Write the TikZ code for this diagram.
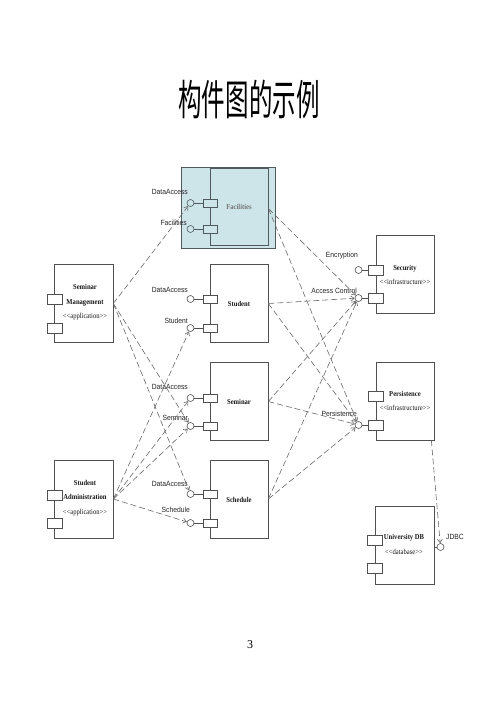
\documentclass[tikz,border=0pt]{standalone}
\usepackage{fontspec}
\setmainfont{Liberation Serif}
\setsansfont{Liberation Sans}
\newfontfamily\cjk{Noto Sans CJK SC}
\newfontfamily\condserif[FakeStretch=0.88]{Liberation Serif}
\newfontfamily\condsans[FakeStretch=0.9]{Liberation Sans}
\usetikzlibrary{arrows.meta}
\definecolor{lineg}{HTML}{6A6A6A}
\definecolor{boxg}{HTML}{505050}
\definecolor{hlfill}{HTML}{CDE5E9}
\definecolor{hlline}{HTML}{505A5C}
\newcommand\stereotxt[1]{<\kern0pt<#1>\kern0pt>}
\begin{document}
\begin{tikzpicture}[x=1pt,y=-1pt,
 comp/.style={draw=boxg, line width=0.7pt, fill=white, minimum width=58pt, minimum height=78pt, inner sep=0pt},
 port/.style={draw=boxg, line width=0.6pt, fill=white, minimum width=14pt, minimum height=8pt, inner sep=0pt},
 lport/.style={port, minimum width=15pt, minimum height=10pt},
 lolli/.style={draw=boxg, line width=0.6pt, fill=white, circle, minimum size=7pt, inner sep=0pt},
 stem/.style={draw=boxg, line width=0.6pt},
 lbl/.style={font=\condsans\fontsize{7.5}{8}\selectfont, text=black!85, inner sep=0pt},
 ctext/.style={font=\condserif\fontsize{7.5}{14.5}\selectfont, align=center, inner sep=0pt, text=black!90},
 dep/.style={draw=lineg, line width=0.6pt, dash pattern=on 6pt off 3pt, -{Straight Barb[length=3.5pt,width=5pt]}},
]
\useasboundingbox (0,0) rectangle (499,706);
\fill[white] (0,0) rectangle (499,706);

% title and page number
\node (title) at (249,99) {\cjk\fontsize{42}{44}\selectfont\scalebox{0.56}[1]{构件图的示例}};
\node (pagenum) at (250,645) {\fontsize{12}{14}\selectfont 3};

% Facilities (highlighted)
\node[draw=hlline, line width=0.7pt, fill=hlfill, minimum width=94pt, minimum height=81pt, inner sep=0pt] (hl) at (228,208) {};
\node[comp, fill=none, draw=hlline, minimum height=77pt] (fac) at (239,206.5) {};
\node[ctext, text=black!55] (factxt) at (239,207) {\textbf{Facilities}};
\node[port, fill=hlfill, draw=hlline] (facp1) at (210,203) {};
\node[port, fill=hlfill, draw=hlline] (facp2) at (210,229) {};
\node[lolli, fill=hlfill, draw=hlline] (facc1) at (190.5,203) {};
\node[lolli, fill=hlfill, draw=hlline] (facc2) at (190.5,229) {};
\draw[stem, draw=hlline] (facc1) -- (facp1);
\draw[stem, draw=hlline] (facc2) -- (facp2);
\node[lbl, anchor=east] (facl1) at (188,192) {DataAccess};
\node[lbl, anchor=east] (facl2) at (187,223) {Facilities};

% Student
\node[comp] (stu) at (239,303.5) {};
\node[ctext] (stutxt) at (239,304) {\textbf{Student}};
\node[port] (stup1) at (210,299) {};
\node[port] (stup2) at (210,328) {};
\node[lolli] (stuc1) at (190.5,299) {};
\node[lolli] (stuc2) at (190.5,328) {};
\draw[stem] (stuc1) -- (stup1);
\draw[stem] (stuc2) -- (stup2);
\node[lbl, anchor=east] (stul1) at (188,290) {DataAccess};
\node[lbl, anchor=east] (stul2) at (188,321) {Student};

% Seminar
\node[comp] (sem) at (239,401.5) {};
\node[ctext] (semtxt) at (239,402) {\textbf{Seminar}};
\node[port] (semp1) at (210,398) {};
\node[port] (semp2) at (210,426) {};
\node[lolli] (semc1) at (190.5,398) {};
\node[lolli] (semc2) at (190.5,426) {};
\draw[stem] (semc1) -- (semp1);
\draw[stem] (semc2) -- (semp2);
\node[lbl, anchor=east] (seml1) at (188,387) {DataAccess};
\node[lbl, anchor=east] (seml2) at (188,418) {Seminar};

% Schedule
\node[comp] (sch) at (239,499) {};
\node[ctext] (schtxt) at (239,500) {\textbf{Schedule}};
\node[port] (schp1) at (210,494) {};
\node[port] (schp2) at (210,523) {};
\node[lolli] (schc1) at (190.5,494) {};
\node[lolli] (schc2) at (190.5,523) {};
\draw[stem] (schc1) -- (schp1);
\draw[stem] (schc2) -- (schp2);
\node[lbl, anchor=east] (schl1) at (188,484) {DataAccess};
\node[lbl, anchor=east] (schl2) at (190,510) {Schedule};

% Seminar Management
\node[comp, minimum width=59pt] (sm) at (83.5,303.5) {};
\node[ctext] (smtxt) at (85,302.5) {\textbf{Seminar}\\\textbf{Management}\\\stereotxt{application}};
\node[lport] (smp1) at (54.5,299) {};
\node[lport] (smp2) at (54.5,328.5) {};

% Student Administration
\node[comp, minimum width=59pt] (sa) at (83.5,499) {};
\node[ctext] (satxt) at (85,498) {\textbf{Student}\\\textbf{Administration}\\\stereotxt{application}};
\node[lport] (sap1) at (54.5,495.5) {};
\node[lport] (sap2) at (54.5,523.5) {};

% Security
\node[comp] (sec) at (405,274.5) {};
\node[ctext] (sectxt) at (405,275) {\textbf{Security}\\\stereotxt{infrastructure}};
\node[lport] (secp1) at (375.5,270) {};
\node[lport] (secp2) at (375.5,298) {};
\node[lolli] (secc1) at (358.5,270) {};
\node[lolli] (secc2) at (358.5,298) {};
\draw[stem] (secc1) -- (secp1);
\draw[stem] (secc2) -- (secp2);
\node[lbl, anchor=east] (secl1) at (358,256) {Encryption};
\node[lbl, anchor=east] (secl2) at (357,291) {Access Control};

% Persistence
\node[comp] (per) at (405,401) {};
\node[ctext] (pertxt) at (405,401) {\textbf{Persistence}\\\stereotxt{infrastructure}};
\node[lport] (perp1) at (375.5,396) {};
\node[lport] (perp2) at (375.5,425) {};
\node[lolli] (perc2) at (358.5,425) {};
\draw[stem] (perc2) -- (perp2);
\node[lbl, anchor=east] (perl2) at (357,414) {Persistence};

% University DB
\node[comp, minimum width=59pt] (udb) at (404.5,545.5) {};
\node[ctext] (udbtxt) at (404,544.5) {\textbf{University DB}\\\stereotxt{database}};
\node[lport] (udbp1) at (374.5,540) {};
\node[lport] (udbp2) at (374.5,568) {};
\node[lolli] (udbc) at (440.5,547) {};
\draw[stem] (udb.east |- udbc) -- (udbc);
\node[lbl, anchor=west] (udbl) at (446,537) {JDBC};
\coordinate (perout) at ([xshift=-3pt]per.south east);
\draw[dep] (perout) -- (udbc);

% dependencies from applications
\draw[dep] (sm.east) -- (facc1);
\draw[dep] (sm.east) -- (semc2);
\draw[dep] (sm.east) -- (schc1);
\draw[dep] (sa.east) -- (stuc2);
\draw[dep] (sa.east) -- (semc1);
\draw[dep] (sa.east) -- (semc2);
\draw[dep] (sa.east) -- (schc2);

% dependencies to infrastructure
\draw[dep] ([yshift=-2pt]fac.east) -- (secc2);
\draw[dep] ([yshift=-2pt]fac.east) -- (perc2);
\draw[dep] (stu.east) -- (secc2);
\draw[dep] (stu.east) -- (perc2);
\draw[dep] (sem.east) -- (secc2);
\draw[dep] (sem.east) -- (perc2);
\draw[dep] (sch.east) -- (secc2);
\draw[dep] (sch.east) -- (perc2);
\end{tikzpicture}
\end{document}
